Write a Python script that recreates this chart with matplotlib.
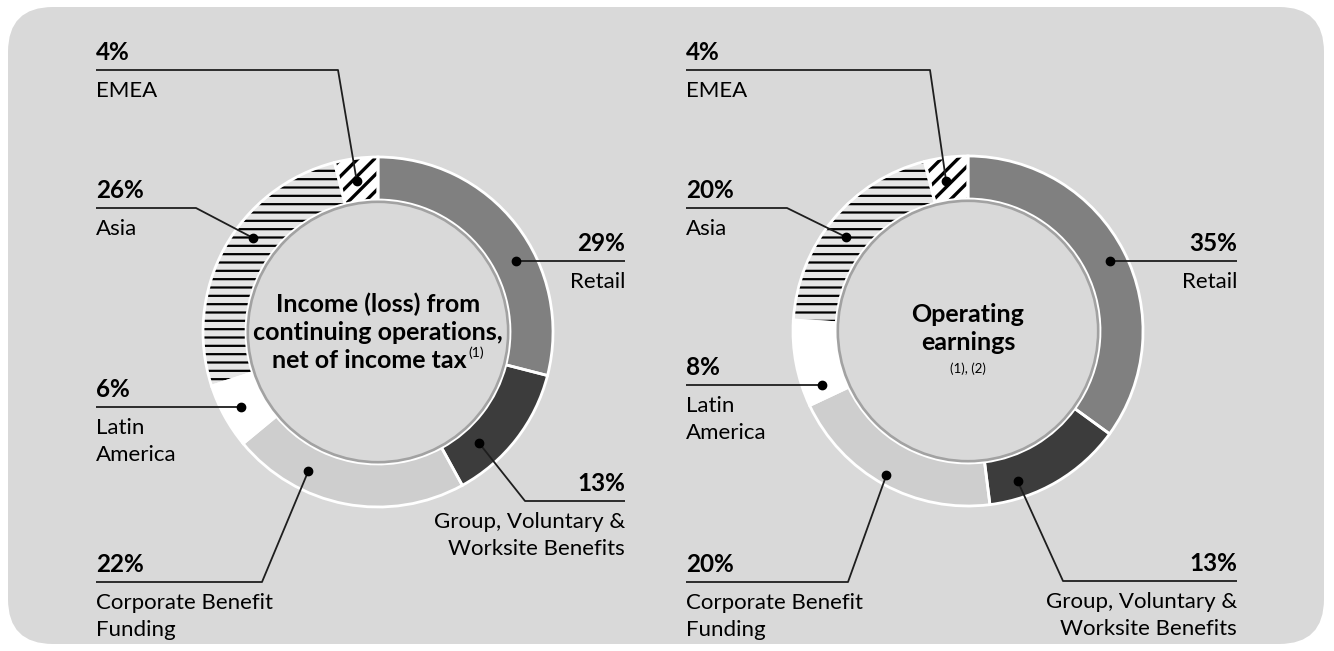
import matplotlib
matplotlib.use("Agg")
import matplotlib.pyplot as plt
from matplotlib.patches import Circle, FancyBboxPatch
import numpy as np

# ---------------- data ----------------
segments = ["Retail", "Group, Voluntary &\nWorksite Benefits", "Corporate Benefit\nFunding",
            "Latin\nAmerica", "Asia", "EMEA"]
income_share = [29, 13, 22, 6, 26, 4]
operating_share = [35, 13, 20, 8, 20, 4]
income_title = ["Income (loss) from", "continuing operations,", "net of income tax"]
income_note = "(1)"
operating_title = ["Operating", "earnings"]
operating_note = "(1), (2)"

# ---------------- style ----------------
W, H = 1334, 651
FONT = ["Lato", "DejaVu Sans"]
plt.rcParams["font.family"] = FONT
plt.rcParams["hatch.linewidth"] = 1.6
BG = "#d9d9d9"
seg_colors = ["#808080", "#3c3c3c", "#cecece", "#ffffff", "#e6e6e6", "#ffffff"]
seg_hatches = [None, None, None, None, "--", "//"]
LINE = "#1e1e1e"

def Y(y):
    return H - y

fig = plt.figure(figsize=(W / 100, H / 100), dpi=100, facecolor="white")
ax = fig.add_axes([0, 0, 1, 1])

# panel background
ax.add_patch(FancyBboxPatch((8, Y(644)), 1316, 637,
                            boxstyle="round,pad=0,rounding_size=45",
                            facecolor=BG, edgecolor="none", zorder=0))

R_OUT, RING = 175, 43

# label layout per chart: (angle_deg, dot_radius, side, text_x, line_y, elbow_x)
layout_income = [
    (27.4, 156, "R", 625, 261, None),
    (312.3, 150, "R", 625, 501, 525),
    (243.4, 156, "L", 96, 582, 262),
    (208.7, 156, "L", 96, 407, None),
    (143.0, 156, "L", 96, 208, 196),
    (98.0, 152, "L", 96, 70, 338),
]
layout_operating = [
    (25.8, 158, "R", 1237, 261, None),
    (288.3, 158, "R", 1237, 581, 1063),
    (240.5, 166, "L", 686, 582, 848),
    (200.6, 156, "L", 686, 385, None),
    (142.4, 154, "L", 686, 208, 787),
    (98.3, 152, "L", 686, 70, 930),
]

def donut(values, cx, cy, layout):
    c = (cx, Y(cy))
    wedges, _ = ax.pie(values, colors=seg_colors, startangle=90, counterclock=False,
                       radius=R_OUT, center=c, frame=True,
                       wedgeprops=dict(width=RING, linewidth=0, edgecolor="black"))
    for w, h in zip(wedges, seg_hatches):
        w.set_zorder(2)
        if h:
            w.set_hatch(h)
            if h.startswith("/") and hasattr(w, "set_hatch_linewidth"):
                w.set_hatch_linewidth(2.4)
    seps, _ = ax.pie(values, colors=["none"] * len(values), startangle=90,
                     counterclock=False, radius=R_OUT, center=c, frame=True,
                     wedgeprops=dict(width=RING, linewidth=2.0, edgecolor="white"))
    for s in seps:
        s.set_zorder(3)
    ax.add_patch(Circle(c, R_OUT - RING - 1.8, facecolor=BG, edgecolor="#a2a2a2",
                        linewidth=1.9, zorder=4))

    for (ang, r_dot, side, tx, ly, ex), name, v in zip(layout, segments, values):
        a = np.deg2rad(ang)
        dx, dy = cx + r_dot * np.cos(a), cy - r_dot * np.sin(a)
        if ex is None:
            pts_x, pts_y = [tx, dx], [ly, ly]
        else:
            pts_x, pts_y = [tx, ex, dx], [ly, ly, dy]
        ax.plot(pts_x, [Y(p) for p in pts_y], color=LINE, lw=1.3, zorder=6,
                solid_capstyle="butt")
        ax.plot([dx], [Y(pts_y[-1])], marker="o", ms=6, color="black", zorder=7)
        ha = "left" if side == "L" else "right"
        ax.text(tx, Y(ly - 10), f"{v}%", ha=ha, va="baseline", fontsize=17.5,
                fontweight="bold", color="black", zorder=8)
        for i, ln in enumerate(name.split("\n")):
            ax.text(tx, Y(ly + 27 + 27 * i), ln, ha=ha, va="baseline", fontsize=16,
                    color="black", zorder=8)

donut(income_share, 378, 332, layout_income)
donut(operating_share, 968, 331, layout_operating)

# centre titles
fig.canvas.draw()
renderer = fig.canvas.get_renderer()
ax.text(378, Y(312), income_title[0], ha="center", va="baseline", fontsize=18,
        fontweight="bold", zorder=9)
ax.text(378, Y(340), income_title[1], ha="center", va="baseline", fontsize=18,
        fontweight="bold", zorder=9)
sup = ax.text(0, Y(357), income_note, ha="left", va="baseline", fontsize=10, zorder=9)
main = ax.text(0, Y(368), income_title[2], ha="left", va="baseline", fontsize=18,
               fontweight="bold", zorder=9)
wm = main.get_window_extent(renderer).width
ws = sup.get_window_extent(renderer).width
x0 = 378 - (wm + ws + 1) / 2
main.set_x(x0)
sup.set_x(x0 + wm + 1)

ax.text(968, Y(322), operating_title[0], ha="center", va="baseline", fontsize=18,
        fontweight="bold", zorder=9)
ax.text(968, Y(350), operating_title[1], ha="center", va="baseline", fontsize=18,
        fontweight="bold", zorder=9)
ax.text(968, Y(373), operating_note, ha="center", va="baseline", fontsize=9.5, zorder=9)

ax.set_xlim(0, W)
ax.set_ylim(0, H)
ax.set_aspect("auto")
ax.axis("off")
fig.savefig("out.png", dpi=100, facecolor="white")
